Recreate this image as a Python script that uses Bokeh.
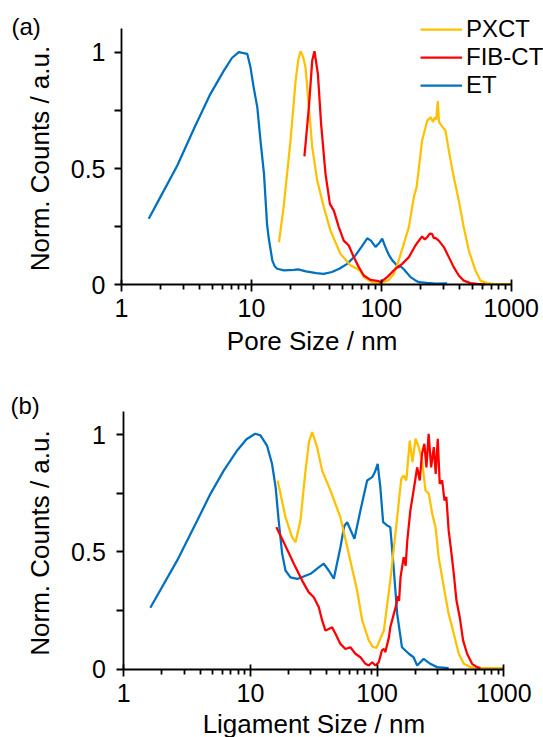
import math
from bokeh.plotting import figure
from bokeh.models import Range1d, FixedTicker, Label, Legend, LegendItem
from bokeh.layouts import column
from bokeh.embed import file_html
from bokeh.resources import INLINE

# ---------------- data ----------------
# panel (a): pore size
et_a_x = [1.62, 2.0, 2.69, 3.61, 4.84, 6.14, 7.08, 8.0, 9.29, 9.84, 10.4, 11.1, 11.75, 12.5, 13.2, 13.6,
          14.5, 15.1, 15.8, 17.8, 21.2, 22.9, 26.3, 31.6, 36.0, 41.7, 47.9, 54.6, 63.0, 70.8, 77.9, 83.2,
          90.2, 96.6, 101.6, 107, 114, 121.6, 128.6, 136.5, 141, 149.6, 168, 182, 194.5, 224, 263, 321]
et_a_y = [0.284, 0.379, 0.513, 0.671, 0.821, 0.921, 0.975, 1.0, 0.993, 0.935, 0.85, 0.764, 0.62, 0.477, 0.26, 0.20,
          0.104, 0.08, 0.069, 0.062, 0.064, 0.066, 0.058, 0.050, 0.047, 0.055, 0.07, 0.09, 0.125, 0.165, 0.20, 0.19,
          0.163, 0.18, 0.198, 0.165, 0.13, 0.105, 0.09, 0.075, 0.08, 0.066, 0.033, 0.02, 0.011, 0.008, 0.005, 0.006]

pxct_a_x = [16.3, 17.7, 20.0, 21.9, 23.0, 23.9, 25.0, 26.1, 27.7, 29.4, 32.1, 36.1, 40.6, 48.5, 58.0, 65.2, 69,
            73.3, 85, 98.6, 114, 125, 136, 149, 163, 178, 187, 195, 206, 226, 240, 250, 258, 265, 272, 278,
            286, 295, 312, 331, 361, 395, 431, 472, 531, 580, 653, 750, 1000]
pxct_a_y = [0.183, 0.334, 0.62, 0.878, 0.97, 1.004, 0.98, 0.935, 0.764, 0.592, 0.448, 0.334, 0.233, 0.133, 0.083, 0.069, 0.06,
            0.033, 0.011, 0.007, 0.02, 0.047, 0.104, 0.176, 0.248, 0.377, 0.42, 0.506, 0.62, 0.706, 0.72, 0.70, 0.72, 0.71, 0.79, 0.70,
            0.69, 0.68, 0.663, 0.577, 0.463, 0.362, 0.248, 0.147, 0.061, 0.018, 0.007, 0.003, 0.003]

fib_a_x = [25.6, 27.7, 29.4, 30.6, 32.5, 34.4, 37.2, 40.2, 43.1, 47.1, 51.4, 56.2, 61.4, 67.1, 73.3, 82.6, 95.7,
           98.6, 111, 128.6, 145, 163, 183, 206, 216, 226, 236, 246, 254, 261, 277, 303, 331, 361, 395, 431,
           486, 547, 630]
fib_a_y = [0.552, 0.764, 0.964, 1.004, 0.907, 0.692, 0.477, 0.348, 0.319, 0.248, 0.19, 0.169, 0.119, 0.076, 0.04, 0.021, 0.016,
           0.011, 0.033, 0.069, 0.09, 0.119, 0.169, 0.208, 0.195, 0.205, 0.22, 0.219, 0.20, 0.202, 0.19, 0.162, 0.119, 0.076, 0.04, 0.018,
           0.007, 0.004, 0.002]

# panel (b): ligament size
et_b_x = [1.62, 2.64, 3.8, 4.83, 6.15, 7.85, 9.3, 10.9, 12.0, 13.5, 14.8, 15.8, 16.7, 17.8, 18.9, 20.7, 23.4,
          29.8, 34, 37.9, 41.5, 45.5, 51.3, 55, 58, 62, 66.2, 73.8, 83.4, 91.4, 96, 101, 106, 111.5, 120, 127,
          135, 144, 157, 178, 194, 207, 233, 263, 297, 367]
et_b_y = [0.261, 0.463, 0.633, 0.747, 0.846, 0.932, 0.98, 1.003, 0.996, 0.953, 0.875, 0.775, 0.633, 0.491, 0.42, 0.391, 0.384,
          0.406, 0.43, 0.449, 0.42, 0.385, 0.519, 0.61, 0.626, 0.59, 0.555, 0.676, 0.804, 0.818, 0.84, 0.875, 0.775, 0.626, 0.612, 0.605,
          0.434, 0.235, 0.093, 0.065, 0.05, 0.015, 0.043, 0.022, 0.008, 0.004]

pxct_b_x = [16.4, 18.9, 21.3, 22.7, 24.8, 27.2, 29.0, 30.7, 33.6, 36.8, 42.8, 51.3, 59.7, 69.5, 76.2, 85.9, 92,
            98.8, 113, 127, 144, 155, 162, 170, 181, 190, 201, 213, 226, 241, 256, 272, 289, 306, 336, 367, 403,
            441, 483, 545, 650, 1000]
pxct_b_y = [0.804, 0.647, 0.562, 0.541, 0.633, 0.846, 0.97, 1.01, 0.946, 0.846, 0.761, 0.647, 0.491, 0.335, 0.207, 0.122, 0.095,
            0.09, 0.164, 0.377, 0.647, 0.811, 0.825, 0.804, 0.974, 0.882, 0.982, 0.946, 0.889, 0.761, 0.747, 0.662, 0.605, 0.477, 0.349, 0.235, 0.15,
            0.065, 0.022, 0.008, 0.004, 0.004]

fib_b_x = [16.0, 18.3, 22.0, 25.6, 28.8, 31.6, 34.6, 36.8, 39.1, 41.5, 44.1, 46.9, 51.3, 56.2, 61.5, 67.4, 73.8,
           80.9, 85.9, 91.4, 97, 103, 109, 113, 116, 124, 127, 140, 146, 149, 153, 162, 168, 173, 183, 194, 207, 217, 226, 236,
           245, 255, 267, 280, 290, 301, 312, 326, 340, 352, 367, 384, 403, 423, 449, 477, 513, 562, 615, 653]
fib_b_y = [0.605, 0.541, 0.449, 0.377, 0.328, 0.306, 0.264, 0.207, 0.164, 0.171, 0.178, 0.15, 0.107, 0.085, 0.093, 0.065, 0.05,
           0.022, 0.015, 0.029, 0.015, 0.029, 0.079, 0.086, 0.072, 0.136, 0.178, 0.264, 0.31, 0.29, 0.391, 0.477, 0.44, 0.548, 0.676, 0.761, 0.86, 0.804, 0.918, 0.96,
           0.86, 1.003, 0.86, 0.946, 0.832, 0.982, 0.79, 0.804, 0.719, 0.733, 0.591, 0.505, 0.406, 0.292, 0.221, 0.122, 0.065, 0.022, 0.008, 0.004]

series_names = ["PXCT", "FIB-CT", "ET"]
x_ticks = [1, 10, 100, 1000]
x_tick_labels = ["1", "10", "100", "1000"]
x_minor = [2, 3, 4, 5, 6, 7, 8, 9, 20, 30, 40, 50, 60, 70, 80, 90, 200, 300, 400, 500, 600, 700, 800, 900]
y_ticks = [0, 0.5, 1]
y_tick_labels = ["0", "0.5", "1"]
y_minor = [0.25, 0.75]
y_title = "Norm. Counts / a.u."
x_title_a = "Pore Size / nm"
x_title_b = "Ligament Size / nm"
panel_tags = ["(a)", "(b)"]

# ---------------- styling ----------------
C_PXCT = "#FFC000"
C_FIB = "#FF0000"
C_ET = "#0070C0"
FONT = "Liberation Sans"
LW = 2.25
W = 543


def make_fig(height, frame_left, frame_right_1000, frame_bottom, px_per_unit, x_std, y_std):
    # the frame fills the whole canvas; axes are pinned at x=1 and y=0
    dec = (frame_right_1000 - frame_left) / 3.0
    x0 = 10 ** (-frame_left / dec)
    x1 = 10 ** ((W - frame_left) / dec)
    y1 = frame_bottom / px_per_unit
    y0 = -(height - frame_bottom) / px_per_unit
    p = figure(width=W, height=height, x_axis_type="log",
               x_range=Range1d(x0, x1), y_range=Range1d(y0, y1),
               output_backend="svg", toolbar_location=None, title=None,
               min_border_left=0, min_border_right=0, min_border_top=0, min_border_bottom=0)
    p.outline_line_color = None
    p.xgrid.visible = False
    p.ygrid.visible = False
    p.background_fill_color = "white"
    p.border_fill_color = "white"

    xa = p.xaxis[0]
    xa.fixed_location = 0
    xa.bounds = (1, 1000)
    xa.ticker = FixedTicker(ticks=x_ticks, minor_ticks=x_minor)
    xa.major_label_overrides = {t: s for t, s in zip(x_ticks, x_tick_labels)}
    xa.major_tick_in = 5
    xa.major_tick_out = 7
    xa.minor_tick_in = 0
    xa.minor_tick_out = 5
    xa.major_label_standoff = x_std

    ya = p.yaxis[0]
    ya.fixed_location = 1
    ya.bounds = (0, 1.1)
    ya.ticker = FixedTicker(ticks=y_ticks, minor_ticks=y_minor)
    ya.major_label_overrides = {t: s for t, s in zip(y_ticks, y_tick_labels)}
    ya.major_tick_in = 0
    ya.major_tick_out = 7
    ya.minor_tick_in = 0
    ya.minor_tick_out = 7
    ya.major_label_standoff = y_std

    for ax in (xa, ya):
        ax.axis_line_color = "black"
        ax.axis_line_width = 1.8
        ax.major_tick_line_color = "black"
        ax.major_tick_line_width = 1.8
        ax.minor_tick_line_color = "black"
        ax.minor_tick_line_width = 1.8
        ax.major_label_text_font_size = "25px"
        ax.major_label_text_font = FONT
        ax.major_label_text_color = "black"
    return p


def add_text(p, x, y, text, size, align="left", angle=0.0):
    # (x, y): screen position of the text's centre line, measured from the canvas bottom-left
    p.add_layout(Label(x=x, y=y, x_units="screen", y_units="screen", text=text, angle=angle,
                       text_font=FONT, text_font_size=size, text_color="black",
                       text_align=align, text_baseline="middle"))


# ---------------- panel (a) ----------------
H1 = 360
p1 = make_fig(H1, 121.0, 510.7, 284.3, 232.6, 7, 9)
r_et_a = p1.line(et_a_x, et_a_y, line_color=C_ET, line_width=LW)
r_px_a = p1.line(pxct_a_x, pxct_a_y, line_color=C_PXCT, line_width=LW)
r_fib_a = p1.line(fib_a_x, fib_a_y, line_color=C_FIB, line_width=LW)

legend = Legend(items=[LegendItem(label=series_names[0], renderers=[r_px_a]),
                       LegendItem(label=series_names[1], renderers=[r_fib_a]),
                       LegendItem(label=series_names[2], renderers=[r_et_a])],
                location=(420, H1 - 98.5), orientation="vertical",
                border_line_color=None, background_fill_alpha=0,
                padding=0, margin=0, spacing=0,
                glyph_width=42, glyph_height=28, label_height=28, label_standoff=4,
                label_text_font_size="24px", label_text_font=FONT, label_text_color="black")
p1.add_layout(legend)

add_text(p1, 11, H1 - 26, panel_tags[0], "24px")
add_text(p1, 311.6, H1 - 340, x_title_a, "26px", align="center")
add_text(p1, 39, H1 - 158, y_title, "26px", align="center", angle=math.pi / 2)

# ---------------- panel (b) ----------------
H2 = 377
p2 = make_fig(H2, 123.3, 503.3, 308.5, 234.5, 8, 11)
p2.line(et_b_x, et_b_y, line_color=C_ET, line_width=LW)
p2.line(pxct_b_x, pxct_b_y, line_color=C_PXCT, line_width=LW)
p2.line(fib_b_x, fib_b_y, line_color=C_FIB, line_width=LW)

add_text(p2, 10, H2 - 45, panel_tags[1], "24px")
add_text(p2, 313.4, H2 - 363, x_title_b, "26px", align="center")
add_text(p2, 39.5, H2 - 182.5, y_title, "26px", align="center", angle=math.pi / 2)

layout = column(p1, p2)
open("out.html", "w").write(file_html(layout, INLINE))
